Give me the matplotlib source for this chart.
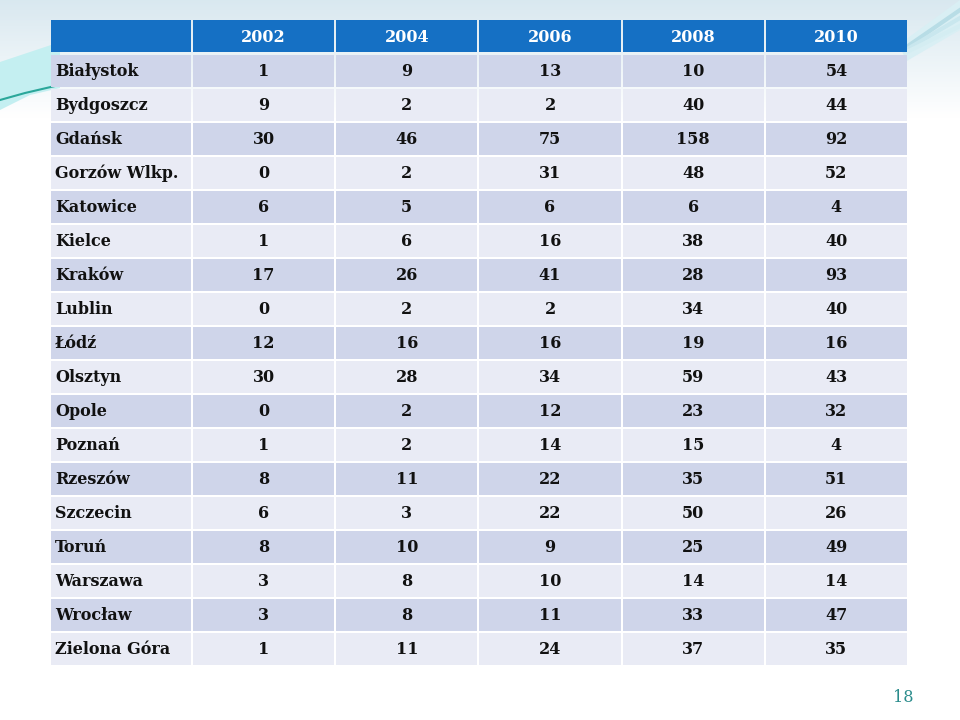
import numpy as np
import matplotlib
matplotlib.use("Agg")
import matplotlib.pyplot as plt
from matplotlib.patches import Rectangle, Polygon

# table data
years = ["2002", "2004", "2006", "2008", "2010"]
cities = ["Białystok", "Bydgoszcz", "Gdańsk", "Gorzów Wlkp.", "Katowice", "Kielce",
          "Kraków", "Lublin", "Łódź", "Olsztyn", "Opole", "Poznań", "Rzeszów",
          "Szczecin", "Toruń", "Warszawa", "Wrocław", "Zielona Góra"]
v2002 = [1, 9, 30, 0, 6, 1, 17, 0, 12, 30, 0, 1, 8, 6, 8, 3, 3, 1]
v2004 = [9, 2, 46, 2, 5, 6, 26, 2, 16, 28, 2, 2, 11, 3, 10, 8, 8, 11]
v2006 = [13, 2, 75, 31, 6, 16, 41, 2, 16, 34, 12, 14, 22, 22, 9, 10, 11, 24]
v2008 = [10, 40, 158, 48, 6, 38, 28, 34, 19, 59, 23, 15, 35, 50, 25, 14, 33, 37]
v2010 = [54, 44, 92, 52, 4, 40, 93, 40, 16, 43, 32, 4, 51, 26, 49, 14, 47, 35]
page_no = "18"

columns = [v2002, v2004, v2006, v2008, v2010]

fig = plt.figure(figsize=(9.6, 7.2), dpi=100)
ax = fig.add_axes([0, 0, 1, 1])
ax.set_xlim(0, 960)
ax.set_ylim(720, 0)
ax.axis("off")

# background: light blue band at top fading to white
grad = np.linspace(0, 1, 200).reshape(-1, 1)
top = np.array([0.85, 0.91, 0.94])
white = np.array([1.0, 1.0, 1.0])
img = top + (white - top) * np.clip(grad * 1.7, 0, 1)[..., None]
img = np.repeat(img, 2, axis=1)
ax.imshow(img, extent=[0, 960, 200, 0], aspect="auto", zorder=0)

# swoosh decorations
ax.add_patch(Polygon([(0, 62), (30, 52), (60, 42), (60, 88), (30, 95), (0, 110)],
                     closed=True, facecolor="#c4eff1", edgecolor="none", zorder=1))
ax.plot([0, 25, 55], [100, 93, 86], color="#2aa79a", lw=1.5, zorder=2)
ax.add_patch(Polygon([(905, 40), (960, 0), (960, 30), (905, 62)], closed=True,
                     facecolor="#d9eff4", edgecolor="none", zorder=0.5))
for off, c in [(0, "#b8dde6"), (8, "#c9e7ee"), (16, "#d4edf2")]:
    ax.plot([905, 960], [48 + off * 0.3, 10 + off], color=c, lw=3, zorder=1)

# layout
left = 50
first_w = 142
col_w = 143.2
head_top = 20
head_h = 34
row_h = 34
gap = 2
font = dict(family="DejaVu Serif", fontweight="bold", fontsize=11.5)

xs = [left, left + first_w] + [left + first_w + col_w * (i + 1) for i in range(len(years))]

# header
for i in range(len(xs) - 1):
    ax.add_patch(Rectangle((xs[i] + gap / 2, head_top), xs[i + 1] - xs[i] - gap, head_h - gap,
                           facecolor="#1570c4", edgecolor="none", zorder=3))
for i, y in enumerate(years):
    cx = (xs[i + 1] + xs[i + 2]) / 2
    ax.text(cx, head_top + head_h / 2 + 0.5, y, color="white", ha="center", va="center",
            zorder=4, **font)

# rows
for r, city in enumerate(cities):
    y0 = head_top + head_h + r * row_h + 1
    fc = "#cfd5ea" if r % 2 == 0 else "#e9ebf5"
    for i in range(len(xs) - 1):
        ax.add_patch(Rectangle((xs[i] + gap / 2, y0), xs[i + 1] - xs[i] - gap, row_h - gap,
                               facecolor=fc, edgecolor="none", zorder=3))
    cy = y0 + (row_h - gap) / 2
    ax.text(left + 5, cy, city, color="#111111", ha="left", va="center", zorder=4, **font)
    for j, col in enumerate(columns):
        cx = (xs[j + 1] + xs[j + 2]) / 2
        ax.text(cx, cy, str(col[r]), color="#111111", ha="center", va="center", zorder=4, **font)

ax.text(903, 697, page_no, color="#2b8c8c", ha="center", va="center",
        family="DejaVu Serif", fontsize=11.5, zorder=4)

fig.savefig("out.png", dpi=100)
